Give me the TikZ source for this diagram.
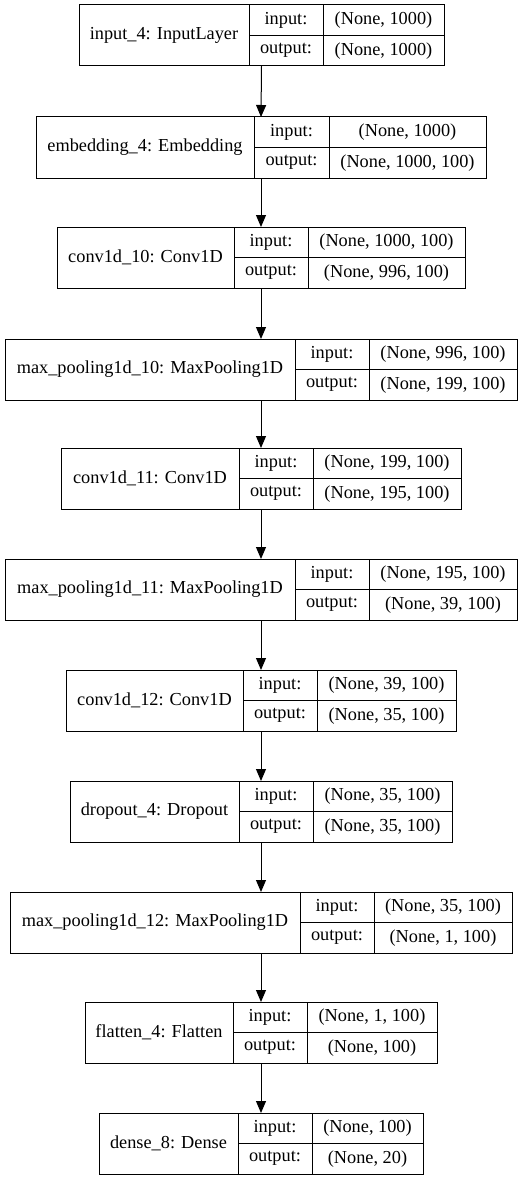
\documentclass[tikz,border=0pt]{standalone}
\usepackage{fontspec}
\setmainfont{Liberation Serif}
\usetikzlibrary{arrows.meta}
\newcommand\klayer[9]{%
  \node[cell, minimum width={(#4-#3)*1pt}, minimum height=61pt] (#1-name) at ({(#3+#4)/2},{#2+30.5}) {#7};
  \node[cell, minimum width={(#5-#4)*1pt}, minimum height=30.5pt] (#1-il) at ({(#4+#5)/2},{#2+15.25}) {input:};
  \node[cell, minimum width={(#5-#4)*1pt}, minimum height=30.5pt] (#1-ol) at ({(#4+#5)/2},{#2+45.75}) {output:};
  \node[cell, minimum width={(#6-#5)*1pt}, minimum height=30.5pt] (#1-iv) at ({(#5+#6)/2},{#2+15.25}) {#8};
  \node[cell, minimum width={(#6-#5)*1pt}, minimum height=30.5pt] (#1-ov) at ({(#5+#6)/2},{#2+45.75}) {#9};
  \node[outerbox, minimum width={(#6-#3)*1pt}, minimum height=61pt] (#1) at ({(#3+#6)/2},{#2+30.5}) {};
}
\begin{document}
\begin{tikzpicture}[x=1pt,y=-1pt,
  cell/.style={draw=black, line width=1pt, inner sep=0pt, outer sep=0pt, font=\fontsize{18.3}{21}\selectfont, rectangle},
  outerbox/.style={inner sep=0pt, outer sep=0pt, rectangle},
  arr/.style={draw=black, line width=1pt, -{Triangle[width=10pt,length=12pt]}}]
\fill[white] (0,0) rectangle (527,1180);
\useasboundingbox (0,0) rectangle (527,1180);
\klayer{L1}{5}{79}{249}{323}{444}{input\_4: InputLayer}{(None, 1000)}{(None, 1000)}
\klayer{L2}{117}{36}{254}{329}{486}{embedding\_4: Embedding}{(None, 1000)}{(None, 1000, 100)}
\klayer{L3}{227}{57}{234}{308}{465}{conv1d\_10: Conv1D}{(None, 1000, 100)}{(None, 996, 100)}
\klayer{L4}{339}{5}{295}{369}{517}{max\_pooling1d\_10: MaxPooling1D}{(None, 996, 100)}{(None, 199, 100)}
\klayer{L5}{448}{61}{239}{313}{461}{conv1d\_11: Conv1D}{(None, 199, 100)}{(None, 195, 100)}
\klayer{L6}{559}{5}{295}{369}{517}{max\_pooling1d\_11: MaxPooling1D}{(None, 195, 100)}{(None, 39, 100)}
\klayer{L7}{670}{66}{243}{317}{456}{conv1d\_12: Conv1D}{(None, 39, 100)}{(None, 35, 100)}
\klayer{L8}{781}{70}{239}{313}{452}{dropout\_4: Dropout}{(None, 35, 100)}{(None, 35, 100)}
\klayer{L9}{892}{10}{300}{374}{512}{max\_pooling1d\_12: MaxPooling1D}{(None, 35, 100)}{(None, 1, 100)}
\klayer{L10}{1002}{85}{233}{307}{437}{flatten\_4: Flatten}{(None, 1, 100)}{(None, 100)}
\klayer{L11}{1113}{99}{238}{312}{423}{dense\_8: Dense}{(None, 100)}{(None, 20)}
\foreach \a/\b in {L1/L2,L2/L3,L3/L4,L4/L5,L5/L6,L6/L7,L7/L8,L8/L9,L9/L10,L10/L11}
  \draw[arr] (\a.south) -- (\b.north);
\end{tikzpicture}
\end{document}
